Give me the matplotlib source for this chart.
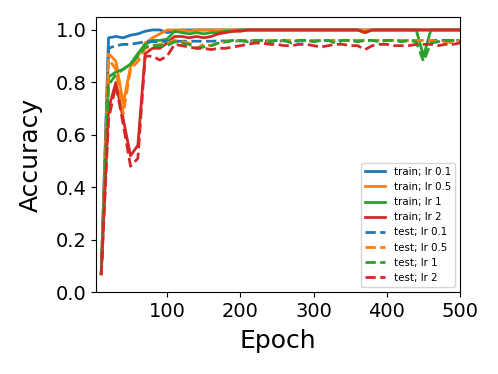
import matplotlib
matplotlib.use('Agg')
import matplotlib.pyplot as plt
import numpy as np

epochs = np.arange(10, 510, 10)

train_lr01 = [0.07, 0.97, 0.975, 0.97, 0.98, 0.985, 0.995, 1.0, 1.0, 0.99,
              0.995, 1.0, 1.0, 1.0, 1.0, 1.0, 1.0, 1.0, 1.0, 1.0,
              1.0, 1.0, 1.0, 1.0, 1.0, 1.0, 1.0, 1.0, 1.0, 1.0,
              1.0, 1.0, 1.0, 1.0, 1.0, 1.0, 1.0, 1.0, 1.0, 1.0,
              1.0, 1.0, 1.0, 1.0, 1.0, 1.0, 1.0, 1.0, 1.0, 1.0]
train_lr05 = [0.07, 0.91, 0.88, 0.72, 0.86, 0.90, 0.95, 0.97, 0.985, 1.0,
              1.0, 1.0, 0.995, 1.0, 1.0, 1.0, 1.0, 1.0, 1.0, 1.0,
              1.0, 1.0, 1.0, 1.0, 1.0, 1.0, 1.0, 1.0, 1.0, 1.0,
              1.0, 1.0, 1.0, 1.0, 1.0, 1.0, 1.0, 1.0, 1.0, 1.0,
              1.0, 1.0, 1.0, 1.0, 1.0, 1.0, 1.0, 1.0, 1.0, 1.0]
train_lr1 = [0.07, 0.82, 0.84, 0.85, 0.87, 0.91, 0.945, 0.96, 0.96, 0.965,
             0.995, 0.99, 0.985, 0.99, 0.985, 0.99, 0.99, 0.995, 0.995, 1.0,
             1.0, 1.0, 1.0, 1.0, 1.0, 1.0, 1.0, 1.0, 1.0, 1.0,
             1.0, 1.0, 1.0, 1.0, 1.0, 1.0, 0.99, 1.0, 1.0, 1.0,
             1.0, 1.0, 1.0, 1.0, 0.90, 1.0, 1.0, 1.0, 1.0, 1.0]
train_lr2 = [0.07, 0.70, 0.80, 0.66, 0.52, 0.56, 0.91, 0.93, 0.93, 0.95,
             0.975, 0.975, 0.97, 0.975, 0.97, 0.975, 0.985, 0.99, 0.995, 0.995,
             1.0, 1.0, 1.0, 1.0, 1.0, 1.0, 1.0, 1.0, 1.0, 1.0,
             1.0, 1.0, 1.0, 1.0, 1.0, 1.0, 0.99, 1.0, 1.0, 1.0,
             1.0, 1.0, 1.0, 1.0, 1.0, 1.0, 1.0, 1.0, 1.0, 1.0]

test_lr01 = [0.07, 0.93, 0.94, 0.945, 0.945, 0.95, 0.955, 0.955, 0.955, 0.957,
             0.957, 0.957, 0.957, 0.957, 0.957, 0.957, 0.958, 0.958, 0.958, 0.958,
             0.958, 0.958, 0.958, 0.958, 0.958, 0.958, 0.958, 0.958, 0.958, 0.958,
             0.96, 0.96, 0.96, 0.96, 0.96, 0.96, 0.96, 0.96, 0.96, 0.96,
             0.96, 0.96, 0.96, 0.96, 0.96, 0.96, 0.96, 0.96, 0.96, 0.96]
test_lr05 = [0.065, 0.89, 0.85, 0.68, 0.85, 0.88, 0.93, 0.94, 0.945, 0.95,
             0.96, 0.955, 0.95, 0.93, 0.945, 0.94, 0.95, 0.955, 0.96, 0.96,
             0.96, 0.96, 0.96, 0.96, 0.96, 0.96, 0.96, 0.96, 0.96, 0.96,
             0.96, 0.96, 0.96, 0.96, 0.96, 0.96, 0.96, 0.96, 0.96, 0.96,
             0.96, 0.96, 0.96, 0.96, 0.96, 0.96, 0.955, 0.955, 0.95, 0.96]
test_lr1 = [0.07, 0.79, 0.83, 0.85, 0.87, 0.90, 0.935, 0.94, 0.94, 0.94,
            0.955, 0.95, 0.945, 0.93, 0.935, 0.94, 0.95, 0.955, 0.96, 0.96,
            0.955, 0.96, 0.96, 0.955, 0.96, 0.96, 0.95, 0.96, 0.96, 0.955,
            0.96, 0.96, 0.95, 0.96, 0.96, 0.955, 0.96, 0.96, 0.955, 0.96,
            0.96, 0.955, 0.96, 0.955, 0.88, 0.95, 0.955, 0.96, 0.96, 0.955]
test_lr2 = [0.065, 0.66, 0.79, 0.64, 0.48, 0.51, 0.90, 0.90, 0.885, 0.90,
            0.945, 0.94, 0.935, 0.93, 0.93, 0.925, 0.93, 0.93, 0.935, 0.94,
            0.945, 0.95, 0.95, 0.945, 0.945, 0.94, 0.94, 0.945, 0.945, 0.94,
            0.935, 0.94, 0.945, 0.945, 0.94, 0.94, 0.925, 0.94, 0.945, 0.945,
            0.94, 0.94, 0.94, 0.945, 0.945, 0.945, 0.94, 0.945, 0.945, 0.95]

lrs = ['0.1', '0.5', '1', '2']
train_runs = [train_lr01, train_lr05, train_lr1, train_lr2]
test_runs = [test_lr01, test_lr05, test_lr1, test_lr2]
colors = ['#1f77b4', '#ff7f0e', '#2ca02c', '#d62728']

fig = plt.figure(figsize=(4.98, 3.74), dpi=100)
ax = fig.add_axes([0.193, 0.219, 0.731, 0.736])

for lr, ys, c in zip(lrs, train_runs, colors):
    ax.plot(epochs, ys, color=c, linewidth=2, label=f'train; lr {lr}')
for lr, ys, c in zip(lrs, test_runs, colors):
    ax.plot(epochs, ys, color=c, linewidth=2, linestyle='--', label=f'test; lr {lr}')

ax.set_xlim(3, 500)
ax.set_ylim(0, 1.05)
ax.set_xticks([100, 200, 300, 400, 500])
ax.set_yticks([0.0, 0.2, 0.4, 0.6, 0.8, 1.0])
ax.tick_params(labelsize=14)
ax.set_xlabel('Epoch', fontsize=18, labelpad=6)
ax.set_ylabel('Accuracy', fontsize=18, labelpad=9)
ax.legend(loc='lower right', fontsize=7.4)

fig.savefig('out.png', dpi=100)
